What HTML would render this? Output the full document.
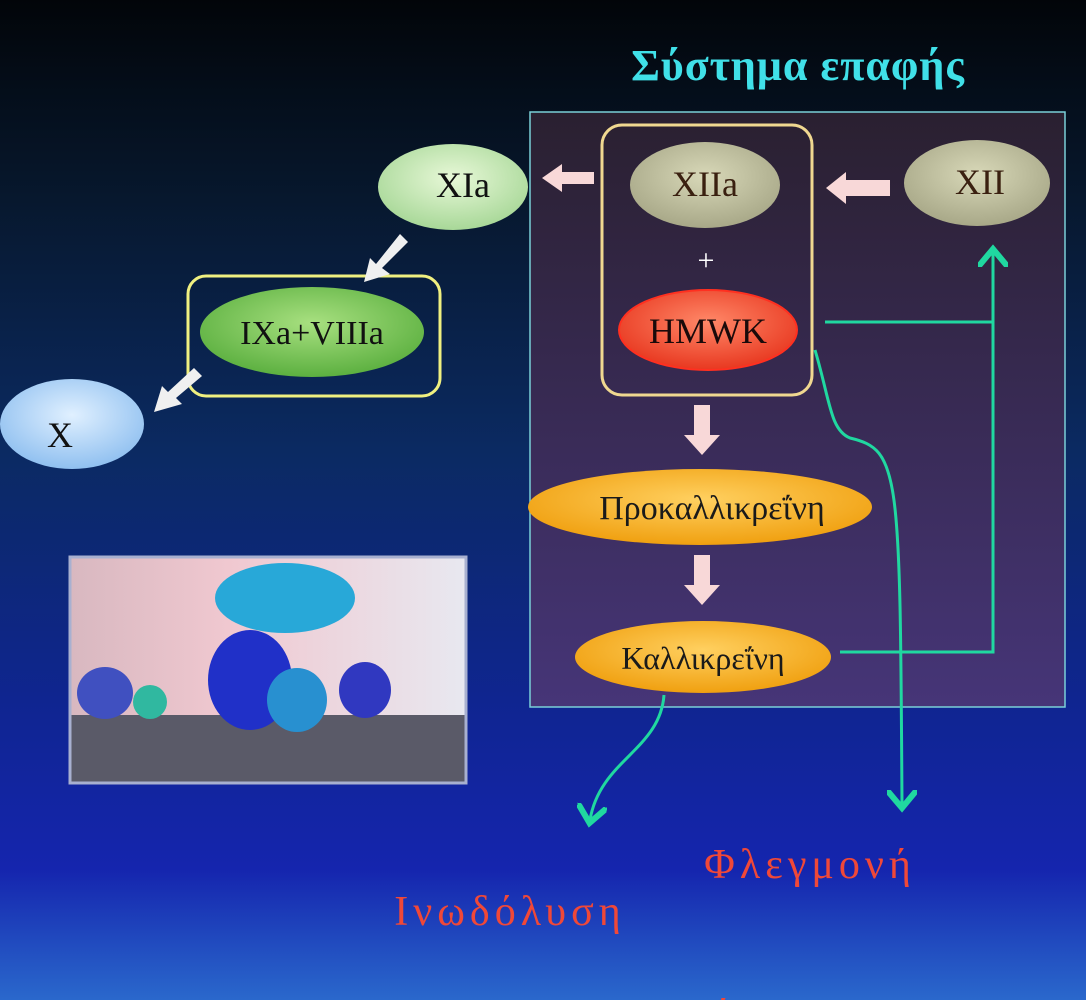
<!DOCTYPE html>
<html><head><meta charset="utf-8"><style>
html,body{margin:0;padding:0;width:1086px;height:1000px;overflow:hidden}
svg{display:block}
text{font-family:"Liberation Serif","DejaVu Serif",serif}
</style></head><body>
<svg width="1086" height="1000" viewBox="0 0 1086 1000" xmlns="http://www.w3.org/2000/svg">
<defs>
<linearGradient id="bg" x1="0" y1="0" x2="0" y2="1">
<stop offset="0" stop-color="#020509"/>
<stop offset="0.2" stop-color="#07182e"/>
<stop offset="0.45" stop-color="#0b2a62"/>
<stop offset="0.7" stop-color="#0f2590"/>
<stop offset="0.87" stop-color="#1525ae"/>
<stop offset="1" stop-color="#2a68cc"/>
</linearGradient>
<linearGradient id="box" x1="0" y1="0" x2="0" y2="1">
<stop offset="0" stop-color="#2a2030"/>
<stop offset="1" stop-color="#463578"/>
</linearGradient>
<radialGradient id="gXIa" cx="0.5" cy="0.4" r="0.6"><stop offset="0" stop-color="#e8f8d8"/><stop offset="1" stop-color="#a8d898"/></radialGradient>
<radialGradient id="gXIIa" cx="0.5" cy="0.4" r="0.6"><stop offset="0" stop-color="#d8d8b8"/><stop offset="1" stop-color="#a8a888"/></radialGradient>
<radialGradient id="gIX" cx="0.5" cy="0.4" r="0.6"><stop offset="0" stop-color="#a8e080"/><stop offset="1" stop-color="#5cb040"/></radialGradient>
<radialGradient id="gX" cx="0.5" cy="0.4" r="0.6"><stop offset="0" stop-color="#e0f0ff"/><stop offset="1" stop-color="#90c0f0"/></radialGradient>
<radialGradient id="gH" cx="0.5" cy="0.4" r="0.6"><stop offset="0" stop-color="#ff8868"/><stop offset="1" stop-color="#e83820"/></radialGradient>
<radialGradient id="gO" cx="0.5" cy="0.4" r="0.6"><stop offset="0" stop-color="#ffd060"/><stop offset="1" stop-color="#f0a010"/></radialGradient>
<linearGradient id="img" x1="0" y1="0" x2="1" y2="0">
<stop offset="0" stop-color="#d8b8c0"/><stop offset="0.4" stop-color="#f0c8d0"/><stop offset="1" stop-color="#e8e8f0"/>
</linearGradient>
<marker id="ag" markerWidth="10" markerHeight="10" refX="5" refY="5" orient="auto"><path d="M0,0 L6,5 L0,10" fill="none" stroke="#20d8a0" stroke-width="2"/></marker>
</defs>
<rect width="1086" height="1000" fill="url(#bg)"/>
<text x="798" y="80" text-anchor="middle" font-size="44" font-weight="bold" letter-spacing="1" fill="#40e0e8">Σύστημα επαφής</text>
<rect x="530" y="112" width="535" height="595" fill="url(#box)" stroke="#7ad0d8" stroke-width="1.5"/>
<rect x="602" y="125" width="210" height="270" rx="20" fill="none" stroke="#f0d890" stroke-width="3"/>
<ellipse cx="453" cy="187" rx="75" ry="43" fill="url(#gXIa)"/>
<text x="463" y="197" text-anchor="middle" font-size="36" fill="#111">XIa</text>
<ellipse cx="705" cy="185" rx="75" ry="43" fill="url(#gXIIa)"/>
<text x="705" y="196" text-anchor="middle" font-size="36" fill="#3a2010">XIIa</text>
<ellipse cx="977" cy="183" rx="73" ry="43" fill="url(#gXIIa)"/>
<text x="980" y="194" text-anchor="middle" font-size="36" fill="#3a2010">XII</text>
<text x="706" y="270" text-anchor="middle" font-size="30" fill="#fff">+</text>
<ellipse cx="708" cy="330" rx="89" ry="40" fill="url(#gH)" stroke="#ff3020" stroke-width="2"/>
<text x="708" y="343" text-anchor="middle" font-size="36" fill="#1a0a0a">HMWK</text>
<rect x="188" y="276" width="252" height="120" rx="18" fill="none" stroke="#f0f080" stroke-width="3"/>
<ellipse cx="312" cy="332" rx="112" ry="45" fill="url(#gIX)"/>
<text x="312" y="344" text-anchor="middle" font-size="34" fill="#111">IXa+VIIIa</text>
<ellipse cx="72" cy="424" rx="72" ry="45" fill="url(#gX)"/>
<text x="60" y="447" text-anchor="middle" font-size="36" fill="#111">X</text>
<ellipse cx="700" cy="507" rx="172" ry="38" fill="url(#gO)"/>
<text x="712" y="519" text-anchor="middle" font-size="34" fill="#1a1a1a">Προκαλλικρεΐνη</text>
<ellipse cx="703" cy="657" rx="128" ry="36" fill="url(#gO)"/>
<text x="703" y="669" text-anchor="middle" font-size="32" fill="#1a1a1a">Καλλικρεΐνη</text>
<g fill="#f8d8d8">
<path d="M594,172 L562,172 L562,164 L542,178 L562,192 L562,184 L594,184Z"/>
<path d="M890,180 L846,180 L846,172 L826,188 L846,204 L846,196 L890,196Z"/>
<path d="M694,405 L710,405 L710,435 L720,435 L702,455 L684,435 L694,435Z"/>
<path d="M694,555 L710,555 L710,585 L720,585 L702,605 L684,585 L694,585Z"/>
</g>
<g fill="#f0f0f0">
<path d="M400,234 L408,242 L382,268 L390,274 L364,282 L370,258 L376,264Z"/>
<path d="M194,368 L202,376 L176,398 L182,404 L154,412 L162,386 L168,392Z"/>
</g>
<g fill="none" stroke="#20d8a0" stroke-width="3">
<path d="M825,322 L993,322"/>
<path d="M840,652 L993,652 L993,252" marker-end="url(#ag)"/>
<path d="M815,350 C830,400 830,430 850,438 C900,450 900,470 902,805" marker-end="url(#ag)"/>
<path d="M664,695 C660,750 600,760 590,820" marker-end="url(#ag)"/>
</g>
<rect x="70" y="557" width="396" height="226" fill="url(#img)"/>
<rect x="70" y="715" width="396" height="68" fill="#5a5a68"/>
<ellipse cx="285" cy="598" rx="70" ry="35" fill="#28a8d8"/>
<ellipse cx="250" cy="680" rx="42" ry="50" fill="#2030c8"/>
<ellipse cx="297" cy="700" rx="30" ry="32" fill="#2890d0"/>
<ellipse cx="105" cy="693" rx="28" ry="26" fill="#4050c0"/>
<ellipse cx="150" cy="702" rx="17" ry="17" fill="#30b8a0"/>
<ellipse cx="365" cy="690" rx="26" ry="28" fill="#3038c0"/>
<rect x="70" y="557" width="396" height="226" fill="none" stroke="#a8b0d0" stroke-width="3"/>
<text x="810" y="878" text-anchor="middle" font-size="42" letter-spacing="5" fill="#f04838">Φλεγμονή</text>
<text x="510" y="925" text-anchor="middle" font-size="42" letter-spacing="5" fill="#f04838">Ινωδόλυση</text>
<text x="640" y="1028" text-anchor="middle" font-size="42" letter-spacing="5" fill="#f04838">Γενεση ά</text>
</svg>
</body></html>
